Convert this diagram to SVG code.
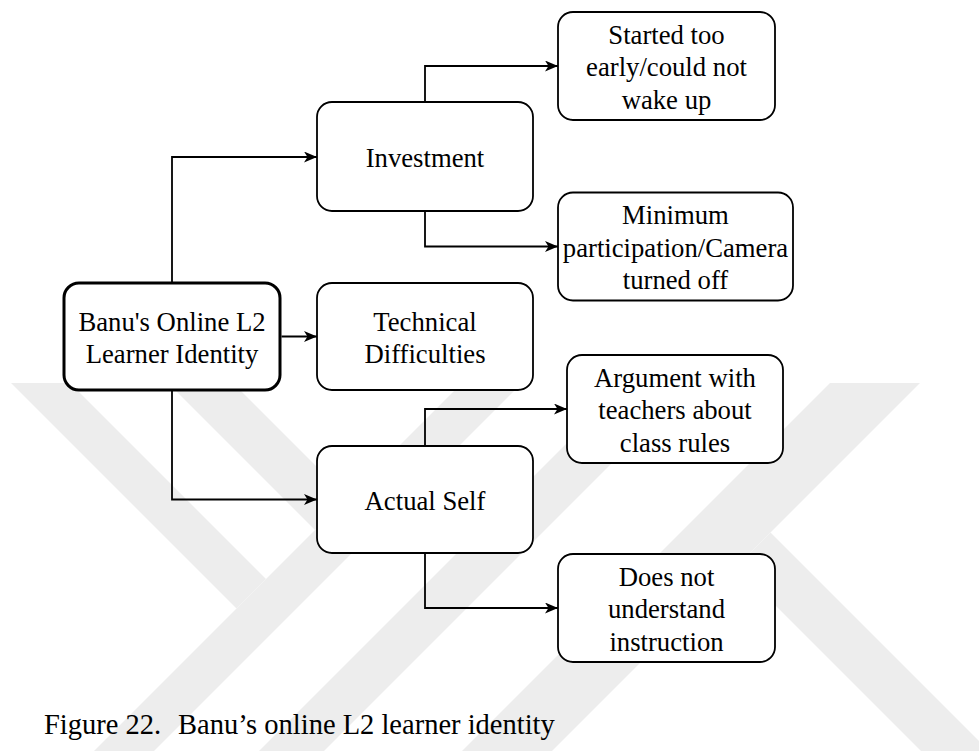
<svg xmlns="http://www.w3.org/2000/svg" width="979" height="751" viewBox="0 0 979 751">
  <style>
    .box { fill: #ffffff; stroke: #000000; stroke-width: 1.8; }
    .root { fill: #ffffff; stroke: #000000; stroke-width: 3; }
    .lbl { font-family: "Liberation Serif", "Times New Roman", serif; font-size: 26.7px; fill: #000000; text-anchor: middle; }
    .cap { font-family: "Liberation Serif", "Times New Roman", serif; font-size: 28.5px; fill: #000000; }
    .edge { fill: none; stroke: #000000; stroke-width: 1.8; marker-end: url(#arrow); }
    .wm { fill: #ededed; }
  </style>
  <defs>
    <marker id="arrow" markerUnits="userSpaceOnUse" markerWidth="14" markerHeight="12" refX="13" refY="5.5" orient="auto">
      <path d="M0,0 L13,5.5 L0,11 L3.5,5.5 Z" fill="#000000"/>
    </marker>
  </defs>

  <rect width="979" height="751" fill="#ffffff"/>

  <!-- faint background logo -->
  <g id="watermark">
    <polygon class="wm" points="11,383 70,383 266,579 236.5,608.5"/>
    <polygon class="wm" points="462,383 522,383 154,751 94,751"/>
    <polygon class="wm" points="168,383 233,383 347.5,497.5 315,530"/>
    <polygon class="wm" points="627,383 692,383 324,751 259,751"/>
    <polygon class="wm" points="830,383 920,383 552,751 462,751"/>
    <polygon class="wm" points="770.5,532.5 979,741 979,751 921,751 736.5,566.5"/>
  </g>

  <g id="connectors">
    <path class="edge" d="M172,282 V157 H317"/>
    <path class="edge" d="M281.5,336.5 H317"/>
    <path class="edge" d="M172,391 V499.5 H317"/>
    <path class="edge" d="M425,102 V66 H558"/>
    <path class="edge" d="M425,211 V246.5 H558"/>
    <path class="edge" d="M425,446 V409 H567"/>
    <path class="edge" d="M425,553 V608 H558"/>
  </g>

  <g id="identity">
    <rect class="root" x="64" y="283" width="216" height="107" rx="15"/>
    <text class="lbl" x="172" y="331">Banu's Online L2</text>
    <text class="lbl" x="172" y="363">Learner Identity</text>
  </g>

  <g id="investment">
    <rect class="box" x="317" y="102" width="216" height="109" rx="15"/>
    <text class="lbl" x="425" y="166.5">Investment</text>
  </g>

  <g id="technical">
    <rect class="box" x="317" y="283" width="216" height="107" rx="15"/>
    <text class="lbl" x="425" y="331">Technical</text>
    <text class="lbl" x="425" y="363">Difficulties</text>
  </g>

  <g id="actual-self">
    <rect class="box" x="317" y="446" width="216" height="107" rx="15"/>
    <text class="lbl" x="425" y="509.5">Actual Self</text>
  </g>

  <g id="started-early">
    <rect class="box" x="558" y="12" width="217" height="108" rx="15"/>
    <text class="lbl" x="666.5" y="43.5">Started too</text>
    <text class="lbl" x="666.5" y="76">early/could not</text>
    <text class="lbl" x="666.5" y="108.5">wake up</text>
  </g>

  <g id="minimum-participation">
    <rect class="box" x="558" y="192.5" width="235" height="108" rx="15"/>
    <text class="lbl" x="675.5" y="224">Minimum</text>
    <text class="lbl" x="675.5" y="256.5">participation/Camera</text>
    <text class="lbl" x="675.5" y="289">turned off</text>
  </g>

  <g id="argument">
    <rect class="box" x="567" y="355" width="216" height="108" rx="15"/>
    <text class="lbl" x="675" y="386.5">Argument with</text>
    <text class="lbl" x="675" y="419">teachers about</text>
    <text class="lbl" x="675" y="451.5">class rules</text>
  </g>

  <g id="instruction">
    <rect class="box" x="558" y="554" width="217" height="108" rx="15"/>
    <text class="lbl" x="666.5" y="585.5">Does not</text>
    <text class="lbl" x="666.5" y="618">understand</text>
    <text class="lbl" x="666.5" y="650.5">instruction</text>
  </g>

  <text class="cap" y="734"><tspan x="44">Figure 22.</tspan><tspan x="178">Banu’s online L2 learner identity</tspan></text>
</svg>
